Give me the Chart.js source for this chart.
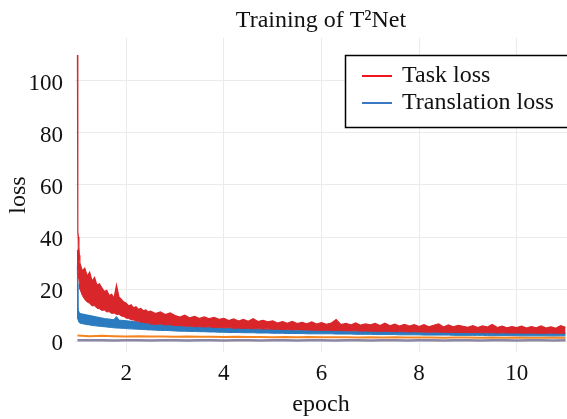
<!DOCTYPE html>
<html>
<head>
<meta charset="utf-8">
<title>Training of T²Net</title>
<script src="https://cdn.jsdelivr.net/npm/chart.js@4.4.1/dist/chart.umd.min.js"></script>
<style>
    html, body { margin: 0; padding: 0; background: #fff; }
    #wrap { width: 567px; height: 419px; position: relative; }
</style>
</head>
<body>
<div id="wrap"><canvas id="loss-chart"></canvas></div>
<script>
// Chart text
const chartTitle = "Training of T²Net";
const xLabel = "epoch";
const yLabel = "loss";

// Axis ticks
const xTicks = [2, 4, 6, 8, 10];
const yTicks = [0, 20, 40, 60, 80, 100];

// The per-iteration losses are so noisy that they read as bands:
// each band is kept as its upper and lower edge.
const bandEpochs = [
    1, 1.005, 1.01, 1.02, 1.03, 1.04,
    1.05, 1.1, 1.15, 1.2, 1.25, 1.3, 1.35, 1.4, 1.45, 1.5, 1.55, 1.6, 1.65, 1.7, 1.75,
    1.8, 1.85, 1.9, 1.95, 2, 2.05, 2.1, 2.15, 2.2, 2.25, 2.3, 2.35, 2.4, 2.45, 2.5,
    2.6, 2.7, 2.8, 2.9,
    3, 3.1, 3.2, 3.3, 3.4, 3.5, 3.6, 3.7, 3.8, 3.9,
    4, 4.1, 4.2, 4.3, 4.4, 4.5, 4.6, 4.7, 4.8, 4.9,
    5, 5.1, 5.2, 5.3, 5.4, 5.5, 5.6, 5.7, 5.8, 5.9,
    6, 6.1, 6.2, 6.3, 6.4, 6.5, 6.6, 6.7, 6.8, 6.9,
    7, 7.1, 7.2, 7.3, 7.4, 7.5, 7.6, 7.7, 7.8, 7.9,
    8, 8.1, 8.2, 8.3, 8.4, 8.5, 8.6, 8.7, 8.8, 8.9,
    9, 9.1, 9.2, 9.3, 9.4, 9.5, 9.6, 9.7, 9.8, 9.9,
    10, 10.1, 10.2, 10.3, 10.4, 10.5, 10.6, 10.7, 10.8, 10.9, 11
];

const taskLossHigh = [
    110, 62, 42, 40, 36, 33,
    30, 27, 28, 25, 26.5, 23, 24.5, 21.5, 22, 20.5, 19, 19.5, 17.5, 18, 16.5,
    21.5, 17, 16, 15, 14.5, 13.5, 14, 12.8, 13.2, 12.2, 12.5, 11.6, 12, 11.2, 11.5,
    10.6, 11.2, 10.2, 10.8,
    9.8, 9.2, 10.0, 8.9, 9.5, 8.7, 9.3, 8.6, 9.1, 8.4,
    8.7, 7.9, 8.5, 7.7, 8.3, 7.6, 8.6, 7.5, 8.0, 7.4,
    7.8, 6.9, 7.5, 6.8, 7.6, 6.7, 7.2, 6.6, 7.4, 6.5,
    7.1, 6.4, 6.9, 8.3, 6.3, 6.8, 6.2, 7.0, 6.1, 6.6,
    6.2, 6.8, 6.0, 6.9, 5.9, 6.5, 5.8, 6.4, 5.8, 6.3,
    5.6, 6.3, 5.5, 6.1, 6.6, 5.4, 6.2, 5.5, 6.0, 5.7,
    5.3, 5.9, 5.2, 5.8, 5.4, 6.4, 5.2, 5.7, 5.1, 5.6,
    5.2, 5.7, 5.0, 5.6, 5.1, 5.8, 5.0, 5.5, 4.9, 5.9, 5.3
];
const taskLossLow = [
    35, 31, 28, 26, 24, 22,
    20, 17.5, 16, 15, 14.5, 13.5, 13.6, 12.6, 12.4, 11.8, 11.9, 11.2, 11.3, 10.6, 10.8,
    10.2, 10.3, 9.6, 9.4, 8.8, 8.7, 8.2, 8.1, 7.7, 7.6, 7.2, 7.3, 6.9, 7.0, 6.6,
    6.4, 6.6, 6.2, 6.3,
    5.9, 6.0, 5.7, 5.8, 5.5, 5.6, 5.4, 5.5, 5.2, 5.3,
    5.1, 5.2, 4.9, 5.0, 4.8, 4.9, 4.7, 4.8, 4.6, 4.7,
    4.5, 4.6, 4.4, 4.5, 4.3, 4.4, 4.3, 4.3, 4.2, 4.2,
    4.1, 4.2, 4.0, 4.1, 4.0, 4.0, 3.9, 4.0, 3.8, 3.9,
    3.8, 3.8, 3.7, 3.8, 3.7, 3.6, 3.7, 3.6, 3.5, 3.6,
    3.5, 3.5, 3.4, 3.5, 3.4, 3.4, 3.3, 3.4, 3.3, 3.3,
    3.3, 3.2, 3.3, 3.2, 3.2, 3.2, 3.1, 3.2, 3.1, 3.1,
    3.1, 3.1, 3.0, 3.1, 3.0, 3.0, 3.0, 3.1, 3.0, 3.0, 3.0
];

const translationLossHigh = [
    29, 18, 13, 11.5, 11, 10.8,
    10.6, 10.4, 10.2, 10.0, 9.8, 9.6, 9.4, 9.2, 9.0, 8.8, 8.6, 8.5, 8.4, 8.3, 8.2,
    9.3, 8.1, 8.0, 7.9, 7.8, 7.7, 7.6, 7.5, 7.4, 7.3, 7.2, 7.1, 7.0, 6.9, 6.8,
    6.6, 6.5, 6.3, 6.2,
    6.0, 5.9, 5.8, 5.7, 5.6, 5.5, 5.4, 5.3, 5.2, 5.1,
    5.0, 4.9, 4.9, 4.8, 4.8, 4.7, 4.7, 4.6, 4.6, 4.5,
    4.5, 4.4, 4.4, 4.3, 4.3, 4.2, 4.2, 4.2, 4.1, 4.1,
    4.0, 4.0, 4.0, 3.9, 3.9, 3.9, 3.8, 3.8, 3.8, 3.7,
    3.7, 3.7, 3.6, 3.6, 3.6, 3.6, 3.5, 3.5, 3.5, 3.5,
    3.4, 3.4, 3.4, 3.4, 3.4, 3.3, 3.3, 3.3, 3.3, 3.3,
    3.3, 3.2, 3.2, 3.2, 3.2, 3.2, 3.2, 3.1, 3.1, 3.1,
    3.1, 3.1, 3.1, 3.1, 3.0, 3.0, 3.0, 3.0, 3.0, 3.0, 3.0
];
const translationLossLow = [
    22, 12, 8.5, 7.8, 7.4, 7.1,
    6.9, 6.7, 6.5, 6.3, 6.2, 6.0, 5.9, 5.8, 5.7, 5.6, 5.5, 5.4, 5.3, 5.2, 5.1,
    5.0, 5.0, 4.9, 4.9, 4.8, 4.7, 4.7, 4.6, 4.6, 4.5, 4.5, 4.4, 4.4, 4.3, 4.3,
    4.2, 4.1, 4.1, 4.0,
    3.9, 3.8, 3.8, 3.7, 3.7, 3.6, 3.6, 3.5, 3.5, 3.4,
    3.4, 3.3, 3.3, 3.3, 3.2, 3.2, 3.2, 3.1, 3.1, 3.1,
    3.0, 3.0, 3.0, 2.9, 2.9, 2.9, 2.9, 2.8, 2.8, 2.8,
    2.8, 2.8, 2.8, 2.7, 2.7, 2.7, 2.7, 2.6, 2.6, 2.6,
    2.6, 2.5, 2.5, 2.5, 2.5, 2.5, 2.4, 2.4, 2.4, 2.4,
    2.4, 2.3, 2.3, 2.3, 2.3, 2.3, 2.3, 2.2, 2.2, 2.2,
    2.2, 2.2, 2.2, 2.2, 2.1, 2.1, 2.1, 2.1, 2.1, 2.1,
    2.1, 2.0, 2.0, 2.0, 2.0, 2.0, 2.0, 2.0, 2.0, 2.0, 2.0
];

// The two unlabeled curves near zero use a coarser epoch grid
const auxEpochs = [
    1, 1.25, 1.5, 1.75, 2, 2.25, 2.5, 2.75, 3, 3.25, 3.5, 3.75, 4, 4.25, 4.5, 4.75, 5, 5.25, 5.5, 5.75, 6,
    6.25, 6.5, 6.75, 7, 7.25, 7.5, 7.75, 8, 8.25, 8.5, 8.75, 9, 9.25, 9.5, 9.75, 10, 10.25, 10.5, 10.75, 11
];
const auxLossA = [
    2.1, 1.9, 2.0, 1.9, 1.8, 1.9, 1.8, 1.8, 1.7, 1.8, 1.7, 1.7, 1.6, 1.7, 1.6, 1.6, 1.5, 1.6, 1.5, 1.6, 1.5,
    1.5, 1.5, 1.4, 1.5, 1.4, 1.5, 1.4, 1.4, 1.4, 1.3, 1.4, 1.4, 1.3, 1.4, 1.3, 1.4, 1.3, 1.3, 1.4, 1.3
];
const auxLossB = [
    0.3, 0.3, 0.3, 0.2, 0.3, 0.3, 0.2, 0.3, 0.3, 0.2, 0.3, 0.3, 0.2, 0.3, 0.3, 0.2, 0.3, 0.3, 0.2, 0.3, 0.3,
    0.2, 0.3, 0.3, 0.2, 0.3, 0.3, 0.2, 0.3, 0.3, 0.2, 0.3, 0.3, 0.2, 0.3, 0.3, 0.2, 0.3, 0.3, 0.2, 0.3
];

const serif = "'Liberation Serif', 'Times New Roman', serif";
const taskColor = "#d8262b";
const translationColor = "#2a7bbf";

document.addEventListener("DOMContentLoaded", () => {
    const toPoints = (xs, ys) => xs.map((x, i) => ({ x: x, y: ys[i] }));

    // Title and in-plot legend, drawn after the datasets
    const overlayPlugin = {
        id: "overlay",
        afterDraw(chart) {
            const ctx = chart.ctx;
            const area = chart.chartArea;
            ctx.save();

            ctx.fillStyle = "#111";
            ctx.font = "24px " + serif;
            ctx.textAlign = "center";
            ctx.textBaseline = "alphabetic";
            ctx.fillText(chartTitle, (area.left + area.right) / 2, 27);

            // legend box sticks out past the right edge, like the original
            const boxLeft = area.right - 222;
            const boxTop = area.top + 17;
            ctx.fillStyle = "#fff";
            ctx.fillRect(boxLeft, boxTop, 240, 72);
            ctx.strokeStyle = "#000";
            ctx.lineWidth = 1.5;
            ctx.strokeRect(boxLeft + 0.5, boxTop + 0.5, 240, 72);

            const items = chart.data.datasets.filter(ds => ds.inLegend);
            ctx.textAlign = "left";
            ctx.textBaseline = "middle";
            items.forEach((ds, i) => {
                const y = boxTop + 21 + i * 27;
                ctx.strokeStyle = ds.legendColor;
                ctx.lineWidth = 2;
                ctx.beginPath();
                ctx.moveTo(boxLeft + 17, y);
                ctx.lineTo(boxLeft + 47, y);
                ctx.stroke();
                ctx.fillStyle = "#111";
                ctx.fillText(ds.label, boxLeft + 57, y);
            });
            ctx.restore();
        }
    };

    const ctx = document.getElementById("loss-chart").getContext("2d");
    window.lossChart = new Chart(ctx, {
        type: "line",
        data: {
            datasets: [
                {
                    label: "Task loss",
                    data: toPoints(bandEpochs, taskLossHigh),
                    borderColor: taskColor,
                    legendColor: "#f0141e",
                    inLegend: true,
                    borderWidth: 1.2,
                    fill: false,
                },
                {
                    label: "Task loss (low)",
                    data: toPoints(bandEpochs, taskLossLow),
                    borderColor: taskColor,
                    backgroundColor: taskColor,
                    borderWidth: 1,
                    fill: "-1",
                },
                {
                    label: "Translation loss",
                    data: toPoints(bandEpochs, translationLossHigh),
                    borderColor: translationColor,
                    legendColor: "#3b78c4",
                    inLegend: true,
                    borderWidth: 1.2,
                    fill: false,
                },
                {
                    label: "Translation loss (low)",
                    data: toPoints(bandEpochs, translationLossLow),
                    borderColor: translationColor,
                    backgroundColor: translationColor,
                    borderWidth: 1,
                    fill: "-1",
                },
                {
                    label: "aux loss A",
                    data: toPoints(auxEpochs, auxLossA),
                    borderColor: "#f5841f",
                    borderWidth: 2,
                    fill: false,
                },
                {
                    label: "aux loss B",
                    data: toPoints(auxEpochs, auxLossB),
                    borderColor: "#8a86a3",
                    borderWidth: 2.5,
                    fill: false,
                },
            ],
        },
        options: {
            responsive: true,
            maintainAspectRatio: false,
            animation: false,
            elements: {
                point: { radius: 0 },
                line: { tension: 0 },
            },
            layout: { padding: { top: 38, right: 0, bottom: 0, left: 0 } },
            plugins: {
                legend: { display: false },
                title: { display: false },
                tooltip: { enabled: false },
            },
            scales: {
                x: {
                    type: "linear",
                    min: 0.95,
                    max: 11.03,
                    border: { display: false },
                    grid: { color: "#ebebeb", lineWidth: 1, drawTicks: false },
                    ticks: {
                        color: "#111",
                        font: { family: serif, size: 23 },
                        padding: 8,
                        maxRotation: 0,
                    },
                    title: {
                        display: true,
                        text: xLabel,
                        color: "#111",
                        font: { family: serif, size: 24 },
                        padding: { top: 0, bottom: 0 },
                    },
                    afterBuildTicks: scale => { scale.ticks = xTicks.map(v => ({ value: v })); },
                    afterFit: scale => { scale.height = 67; },
                },
                y: {
                    min: -4.2,
                    max: 116.5,
                    border: { display: false },
                    grid: { color: "#ebebeb", lineWidth: 1, drawTicks: false },
                    ticks: {
                        color: "#111",
                        font: { family: serif, size: 23 },
                        padding: 12,
                        labelOffset: 3,
                    },
                    title: {
                        display: true,
                        text: yLabel,
                        color: "#111",
                        font: { family: serif, size: 24 },
                        padding: { top: 4, bottom: 0 },
                    },
                    afterBuildTicks: scale => { scale.ticks = yTicks.map(v => ({ value: v })); },
                    afterFit: scale => { scale.width = 75; },
                },
            },
        },
        plugins: [overlayPlugin],
    });
});
</script>
</body>
</html>
